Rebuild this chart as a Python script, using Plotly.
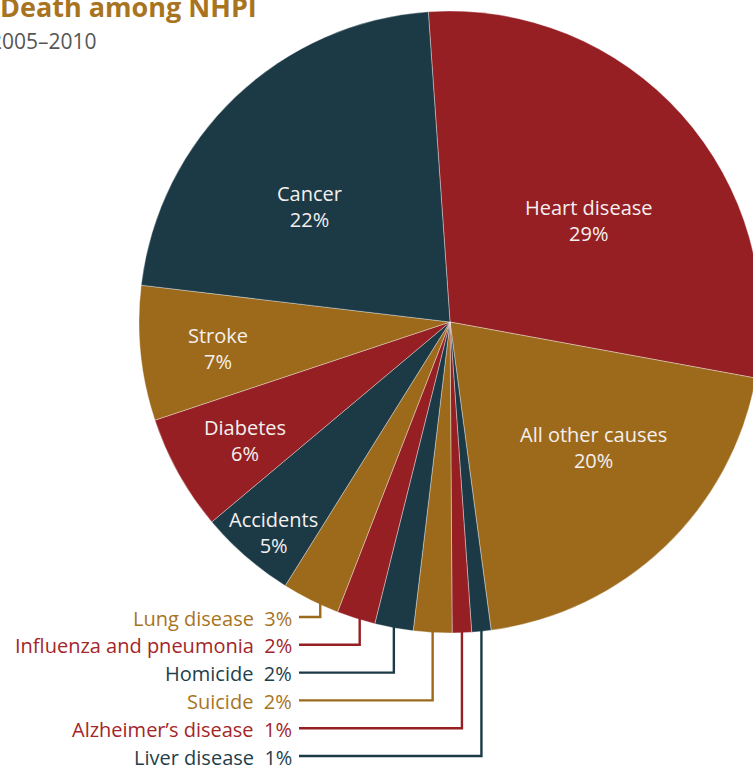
import math
import plotly.graph_objects as go

# ---- data ----
causes = ["Heart disease", "All other causes", "Liver disease", "Alzheimer\u2019s disease",
          "Suicide", "Homicide", "Influenza and pneumonia", "Lung disease",
          "Accidents", "Diabetes", "Stroke", "Cancer"]
shares = [29, 20, 1, 1, 2, 2, 2, 3, 5, 6, 7, 22]
inside = [True, True, False, False, False, False, False, False, True, True, True, True]
# order in which the small slices are listed in the callout column (top to bottom)
callout_order = ["Lung disease", "Influenza and pneumonia", "Homicide", "Suicide",
                 "Alzheimer\u2019s disease", "Liver disease"]
title_text = "Death among NHPI"
subtitle_text = "2005\u20132010"

TEAL, RED, GOLD = "#1b3a46", "#961f23", "#9c6a1a"
slice_colors = [RED, GOLD, TEAL, RED, GOLD, TEAL, RED, GOLD, TEAL, RED, GOLD, TEAL]
text_colors = {TEAL: "#1f3f4b", RED: "#a3262a", GOLD: "#a8741f"}

# label placement inside big slices: (angle offset from slice bisector in deg, fraction of radius)
inside_label_place = {
    "Heart disease": (5.8, 0.553), "All other causes": (-5.4, 0.613), "Accidents": (-0.9, 0.883),
    "Diabetes": (-0.9, 0.762), "Stroke": (-0.6, 0.751), "Cancer": (-7.0, 0.583),
}
# where along each small slice's arc (0 = start, 1 = end, clockwise) the leader line attaches
callout_attach = [0.32, 0.4, 0.5, 0.5, 0.5, 0.5]

W, H = 770, 769          # figure slightly wider than the 753px window: pie runs off the right edge
FONT = "Open Sans"

# pie geometry (pixels)
cx_px, yc_px, r_px = 450, 322, 311
x0, x1 = (cx_px - r_px) / W, (cx_px + r_px) / W
y0, y1 = 1 - (yc_px + r_px) / H, 1 - (yc_px - r_px) / H
ROT = -4

fig = go.Figure(go.Pie(
    labels=causes, values=shares, sort=False, direction="clockwise", rotation=ROT,
    marker=dict(colors=slice_colors, line=dict(color="rgba(255,255,255,0.6)", width=0.6)),
    textinfo="none",
    domain=dict(x=[x0, x1], y=[y0, y1]),
    hoverinfo="label+percent", showlegend=False,
))

total = sum(shares)
cum = 0
start_angle, span_angle = {}, {}
for c, v in zip(causes, shares):
    start_angle[c] = ROT + cum / total * 360
    span_angle[c] = v / total * 360
    cum += v


def to_paper(px, py):
    return px / W, 1 - py / H


shapes, annotations = [], []

# labels inside the big slices
for c, v, ins in zip(causes, shares, inside):
    if not ins:
        continue
    off, frac = inside_label_place[c]
    th = math.radians(start_angle[c] + span_angle[c] / 2 + off)
    lx = cx_px + frac * r_px * math.sin(th)
    ly = yc_px - frac * r_px * math.cos(th)
    px, py = to_paper(lx, ly)
    annotations.append(dict(text=f"{c}<br>{v}%", x=px, y=py, xref="paper", yref="paper",
                            xanchor="center", yanchor="middle", align="center", showarrow=False,
                            font=dict(family=FONT, size=20, color="#f5f0ef")))

# callouts for small slices
label_right = 294
line_left = 299
row0, row_gap = 617, 27.8
for k, c in enumerate(callout_order):
    i = causes.index(c)
    col = slice_colors[i]
    th = math.radians(start_angle[c] + span_angle[c] * callout_attach[k])
    ax = cx_px + r_px * math.sin(th)
    ay = yc_px - r_px * math.cos(th)
    ly = row0 + k * row_gap
    pts = [(ax, ay - 2), (ax, ly), (line_left, ly)]
    path = "M " + " L ".join("{:.5f},{:.5f}".format(*to_paper(px, py)) for px, py in pts)
    shapes.append(dict(type="path", path=path, xref="paper", yref="paper",
                       line=dict(color=col, width=2.4)))
    tx, ty = to_paper(label_right, ly + 1)
    annotations.append(dict(text=f"{c}&nbsp;&nbsp;{shares[i]}%", x=tx, y=ty,
                            xref="paper", yref="paper", xanchor="right", yanchor="middle",
                            showarrow=False, font=dict(family=FONT, size=20, color=text_colors[col])))

tx, ty = to_paper(259, 7)
annotations.append(dict(text=f"<b>{title_text}</b>", x=tx, y=ty, xref="paper", yref="paper",
                        xanchor="right", yanchor="middle", showarrow=False,
                        font=dict(family=FONT, size=27, color="#a8741f")))
tx, ty = to_paper(99, 41)
annotations.append(dict(text=subtitle_text, x=tx, y=ty, xref="paper", yref="paper",
                        xanchor="right", yanchor="middle", showarrow=False,
                        font=dict(family=FONT, size=21, color="#555555")))

fig.update_layout(width=W, height=H, margin=dict(l=0, r=0, t=0, b=0),
                  paper_bgcolor="white", plot_bgcolor="white",
                  shapes=shapes, annotations=annotations)
fig.write_html("out.html", config={"displayModeBar": False},
               post_script="document.body.style.margin='0';document.body.style.overflow='hidden';")
